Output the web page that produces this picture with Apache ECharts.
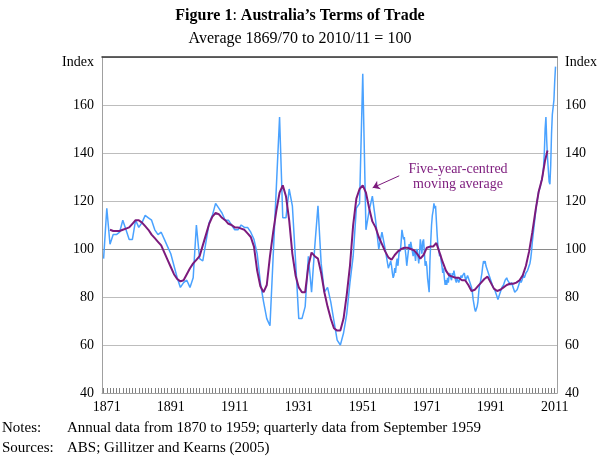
<!DOCTYPE html>
<html lang="en">
  <head>
    <meta charset="UTF-8" />
    <meta name="viewport" content="width=device-width, initial-scale=1.0" />
    <title>Australia's Terms of Trade</title>
    <script src="https://cdn.jsdelivr.net/npm/echarts@6/dist/echarts.min.js"></script>
    <style>
      html, body { margin: 0; padding: 0; background: #fff; }
    </style>
  </head>
  <body>
    <div id="main" style="width: 600px; height: 460px"></div>
    <script type="text/javascript">
      // annual data 1870 to 1959 (one value per year)
      const annualStart = 1870
      const annualIndex = [
        96, 117, 102, 106, 106, 107, 112, 108, 104, 104,      // 1870s
        112, 109, 111, 114, 113, 112, 108, 106, 107, 104,     // 1880s
        101, 98, 93, 88, 84, 86, 87, 84, 88, 110,             // 1890s
        96, 95, 103, 111, 114, 119, 117, 115, 112, 112,       // 1900s
        110, 108, 108, 110, 109, 109, 107, 104, 98, 86,       // 1910s
        78, 71, 68, 97, 126, 155, 113, 113, 125, 118,         // 1920s
        95, 71, 71, 76, 97, 82, 101, 118, 94, 82,             // 1930s
        84, 78, 70, 62, 60, 65, 73, 86, 97, 117,              // 1940s
        119, 173, 108, 116, 122, 112, 100, 107, 100, 92       // 1950s
      ]

      // quarterly data from September 1959
      const quarterlyStart = 1959.75
      const quarterlyIndex = [
        95,
        93, 90, 88, 89,      // 1960
        92, 90, 94, 96,      // 1961
        93, 97, 100, 99,     // 1962
        103, 108, 106, 104,  // 1963
        105, 100, 97, 93,    // 1964
        96, 99, 102, 100,    // 1965
        103, 101, 99, 97,    // 1966
        100, 98, 95, 99,     // 1967
        100, 97, 94, 98,     // 1968
        104, 101, 98, 103,   // 1969
        104, 99, 93, 95,     // 1970
        93, 88, 85, 82,      // 1971
        95, 103, 110, 114,   // 1972
        116, 119, 117, 118,  // 1973
        112, 106, 101, 100,  // 1974
        97, 98, 95, 93,      // 1975
        90, 92, 88, 85,      // 1976
        87, 85, 88, 86,      // 1977
        89, 90, 88, 87,      // 1978
        90, 89, 91, 89,      // 1979
        87, 86, 88, 87,      // 1980
        86, 87, 88, 89,      // 1981
        88, 89, 89, 90,      // 1982
        88, 87, 88, 89,      // 1983
        88, 87, 86, 85,      // 1984
        84, 82, 79, 77,      // 1985
        75, 74, 75, 76,      // 1986
        78, 82, 85, 86,      // 1987
        88, 90, 93, 95,      // 1988
        94, 95, 93, 92,      // 1989
        92, 90, 89, 88,      // 1990
        87, 86, 85, 84,      // 1991
        84, 83, 82, 81,      // 1992
        80, 79, 80, 81,      // 1993
        82, 83, 84, 84,      // 1994
        85, 86, 87, 87,      // 1995
        88, 87, 87, 86,      // 1996
        85, 85, 86, 85,      // 1997
        84, 83, 82, 82,      // 1998
        82, 83, 84, 85,      // 1999
        86, 87, 86, 87,      // 2000
        88, 89, 88, 89,      // 2001
        90, 90, 91, 92,      // 2002
        93, 94, 96, 99,      // 2003
        103, 106, 109, 112,  // 2004
        115, 118, 120, 122,  // 2005
        124, 125, 126, 128,  // 2006
        129, 131, 134, 140,  // 2007
        150, 155, 145, 138,  // 2008
        133, 128, 127, 135,  // 2009
        148, 156, 159, 162,  // 2010
        170, 176             // 2011
      ]

      // five-year-centred moving average
      const maYears = []
      for (let y = 1872; y <= 2008; y++) maYears.push(y)
      maYears.push(2008.75)
      const maIndex = [
        108, 107.5, 107.5, 107.5, 108, 108.5, 109, 110.5,             // 1872-79
        112, 112, 111, 109.5, 108, 106, 104.5, 103, 101.5, 98.5,      // 1880s
        95.5, 92.5, 89.5, 87.5, 86.5, 87, 89.5, 92, 94, 95.5,         // 1890s
        97, 101.5, 106, 110.5, 113.5, 115, 114.5, 113, 112, 110.5,    // 1900s
        110, 109, 109, 108.5, 108, 106.5, 105, 101, 91, 84.5,         // 1910s
        82, 85, 97, 107, 116, 123.5, 126.5, 122, 112, 98,             // 1920s
        89, 84, 82, 82, 93, 98.5, 97, 96, 90, 82,                     // 1930s
        76, 71, 67, 66, 66, 71, 81, 93, 110, 121,                     // 1940s
        125, 126.5, 123.5, 117, 111.5, 109, 105, 102, 99, 96.5,       // 1950s
        95.5, 97.5, 99, 100, 100.5, 100.5, 100, 99.5, 98, 96,         // 1960s
        97.5, 100.5, 101, 101, 102.5, 98.5, 94.5, 91, 89, 88.5,       // 1970s
        88, 88, 87, 87, 85, 82.5, 83, 84.5, 86, 87.5,                 // 1980s
        88.5, 86, 83.5, 82.5, 83, 84, 85, 85.5, 85.5, 86,             // 1990s
        87, 89, 93, 99, 107, 116, 124, 129, 137,                      // 2000-08
        141
      ]

      const xLabels = [1871, 1891, 1911, 1931, 1951, 1971, 1991, 2011]
      const yTicks = [40, 60, 80, 100, 120, 140, 160, 180]

      const FONT = '"Liberation Serif", "Times New Roman", serif'
      const BLUE = '#4aa2ff'
      const PURPLE = '#7c1a7c'

      // yearly minor ticks along the bottom axis
      let tickYears = []
      for (let y = 1870; y <= 2011; y++) tickYears.push(y)

      let tradeData = []
      annualIndex.forEach((v, i) => tradeData.push([annualStart + i, v]))
      quarterlyIndex.forEach((v, i) => tradeData.push([quarterlyStart + i * 0.25, v]))
      let maData = maYears.map((y, i) => [y, maIndex[i]])

      function yLabel(v) {
        return v === 180 ? '{i|Index}' : String(v)
      }

      let yAxisBase = {
        type: 'value',
        min: yTicks[0],
        max: yTicks[yTicks.length - 1],
        interval: 20,
        axisLine: { show: true, lineStyle: { color: '#a0a0a0', width: 1 } },
        axisTick: { show: false },
        axisLabel: {
          color: '#000',
          fontFamily: FONT,
          fontSize: 14,
          margin: 8,
          formatter: yLabel,
          rich: { i: { fontFamily: FONT, fontSize: 14, color: '#000', padding: [10, 0, 0, 0] } }
        }
      }

      let options = {
        animation: false,
        textStyle: { fontFamily: FONT },
        title: [
          {
            text: '{b|Figure 1}: {b|Australia\u2019s Terms of Trade}',
            left: 'center',
            top: 3,
            textStyle: {
              fontFamily: FONT, fontSize: 16, color: '#000', fontWeight: 'normal',
              rich: { b: { fontFamily: FONT, fontSize: 16, fontWeight: 'bold', color: '#000' } }
            }
          },
          {
            text: 'Average 1869/70 to 2010/11 = 100',
            left: 'center',
            top: 26,
            textStyle: { fontFamily: FONT, fontSize: 16, fontWeight: 'normal', color: '#000' }
          }
        ],
        grid: { left: 102, right: 42, top: 57, bottom: 67 },
        xAxis: [
          {
            type: 'value',
            min: 1869.5,
            max: 2011.75,
            axisLine: { lineStyle: { color: '#a0a0a0' } },
            axisTick: { inside: true, length: 5, customValues: tickYears, lineStyle: { color: '#808080' } },
            axisLabel: {
              customValues: xLabels, color: '#000', fontFamily: FONT, fontSize: 14, margin: 7,
              formatter: v => String(v)
            },
            splitLine: { show: false }
          },
          {
            type: 'value',
            position: 'top',
            min: 1869.5,
            max: 2011.75,
            axisLine: { lineStyle: { color: '#333', width: 1.5 } },
            axisTick: { show: false },
            axisLabel: { show: false },
            splitLine: { show: false }
          }
        ],
        yAxis: [
          Object.assign({}, yAxisBase, {
            position: 'left',
            splitLine: { show: true, lineStyle: { color: '#bdbdbd', width: 1 } }
          }),
          Object.assign({}, yAxisBase, {
            position: 'right',
            splitLine: { show: false }
          })
        ],
        series: [
          {
            name: 'Terms of trade',
            type: 'line',
            data: tradeData,
            showSymbol: false,
            z: 2,
            lineStyle: { color: BLUE, width: 1.5 },
            markLine: {
              silent: true,
              z: 1,
              symbol: 'none',
              label: { show: false },
              lineStyle: { color: '#8a8a8a', type: 'solid', width: 1.2 },
              data: [{ yAxis: 100 }]
            }
          },
          {
            name: 'Five-year-centred moving average',
            type: 'line',
            data: maData,
            showSymbol: false,
            z: 3,
            lineStyle: { color: PURPLE, width: 2 },
            markLine: {
              silent: true,
              symbol: ['none', 'arrow'],
              symbolSize: 7,
              label: { show: false },
              lineStyle: { color: PURPLE, type: 'solid', width: 1 },
              data: [[{ coord: [1962.4, 130.5] }, { coord: [1954.1, 125.5] }]]
            }
          }
        ],
        graphic: [
          {
            type: 'text', x: 458, y: 162,
            style: {
              text: 'Five-year-centred\nmoving average',
              fill: PURPLE, font: '14px ' + FONT, align: 'center', verticalAlign: 'top', lineHeight: 15
            }
          },
          { type: 'text', x: 2, y: 428, style: { text: 'Notes:', fill: '#000', font: '15px ' + FONT, verticalAlign: 'middle' } },
          { type: 'text', x: 67, y: 428, style: { text: 'Annual data from 1870 to 1959; quarterly data from September 1959', fill: '#000', font: '15px ' + FONT, verticalAlign: 'middle' } },
          { type: 'text', x: 2, y: 448, style: { text: 'Sources:', fill: '#000', font: '15px ' + FONT, verticalAlign: 'middle' } },
          { type: 'text', x: 67, y: 448, style: { text: 'ABS; Gillitzer and Kearns (2005)', fill: '#000', font: '15px ' + FONT, verticalAlign: 'middle' } }
        ]
      }

      let myChart = echarts.init(document.getElementById('main'))
      myChart.setOption(options)
    </script>
  </body>
</html>
